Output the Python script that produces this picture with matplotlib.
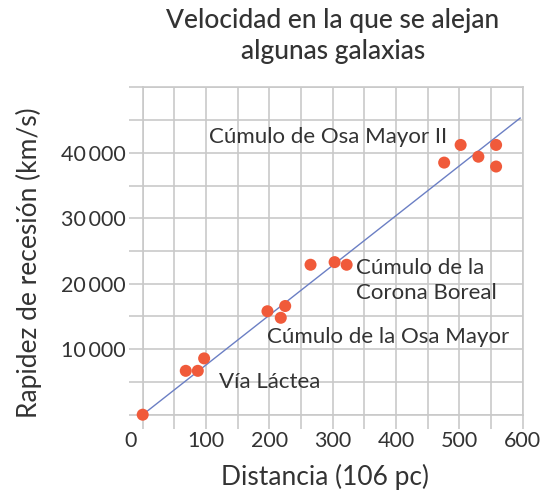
import matplotlib
matplotlib.use("Agg")
import matplotlib.pyplot as plt
import matplotlib.transforms as mtransforms
from matplotlib.ticker import MultipleLocator, FixedLocator

plt.rcParams['font.family'] = ['Lato', 'DejaVu Sans']

# distancia (10^6 pc) y rapidez de recesión (km/s) de cada galaxia
distancia = [0, 68, 87, 97, 197, 218, 225, 265, 303, 322, 476, 502, 530, 558, 558]
rapidez = [0, 6700, 6700, 8600, 15800, 14800, 16600, 22900, 23300, 22900,
           38500, 41200, 39400, 41200, 37900]

# recta de ajuste
recta_x = [0, 596]
recta_y = [0, 45300]

etiquetas = ["Cúmulo de Osa Mayor II", "Cúmulo de la\nCorona Boreal",
             "Cúmulo de la Osa Mayor", "Vía Láctea"]
etiqueta_x = [104, 337, 196, 121]
etiqueta_y = [42400, 20450, 11900, 5050]

x_ticks = [0, 100, 200, 300, 400, 500, 600]
y_ticks = [10000, 20000, 30000, 40000]
y_ticklabels = ["10\u2009000", "20\u2009000", "30\u2009000", "40\u2009000"]

txt = '#333333'
gris = '#c9c9c9'

fig = plt.figure(figsize=(5.49, 4.94), dpi=100)
ax = fig.add_axes([142.7 / 549, 1 - 414.7 / 494, 380 / 549, 327.4 / 494])

ax.set_xlim(0, 600)
ax.set_ylim(0, 50000)

ax.xaxis.set_major_locator(FixedLocator(x_ticks))
ax.xaxis.set_minor_locator(MultipleLocator(50))
ax.yaxis.set_major_locator(FixedLocator(y_ticks))
ax.yaxis.set_minor_locator(MultipleLocator(5000))
ax.set_yticklabels(y_ticklabels)

ax.grid(True, which='both', color=gris, linewidth=1.2)
ax.set_axisbelow(True)
for s in ax.spines.values():
    s.set_color(gris)
    s.set_linewidth(1.2)
ax.tick_params(which='both', length=10, width=1.2, color=gris,
               labelsize=15.5, labelcolor=txt, pad=2)

# el 0 del eje x se corre un poco a la izquierda
lbl0 = ax.get_xticklabels()[0]
lbl0.set_transform(lbl0.get_transform() +
                   mtransforms.ScaledTranslation(-0.12, 0, fig.dpi_scale_trans))

ax.plot(recta_x, recta_y, color='#6b7fc4', linewidth=1, zorder=3)
ax.scatter(distancia, rapidez, s=75, color='#f05a3a', edgecolors='none',
           zorder=4, clip_on=False)

for t, x, y in zip(etiquetas, etiqueta_x, etiqueta_y):
    ax.text(x, y, t, fontsize=16, color=txt, va='center', ha='left',
            linespacing=1.3, zorder=5)

ax.set_xlabel("Distancia (106 pc)", fontsize=19, color=txt)
ax.set_ylabel("Rapidez de recesión (km/s)", fontsize=19, color=txt)
ax.xaxis.set_label_coords(0.48, -0.15)
ax.yaxis.set_label_coords(-0.265, 0.465)

fig.text(0.606, 0.984, "Velocidad en la que se alejan\nalgunas galaxias",
         ha='center', va='top', fontsize=19, color=txt, linespacing=1.3,
         fontweight='medium')

fig.savefig("out.png", dpi=100)
